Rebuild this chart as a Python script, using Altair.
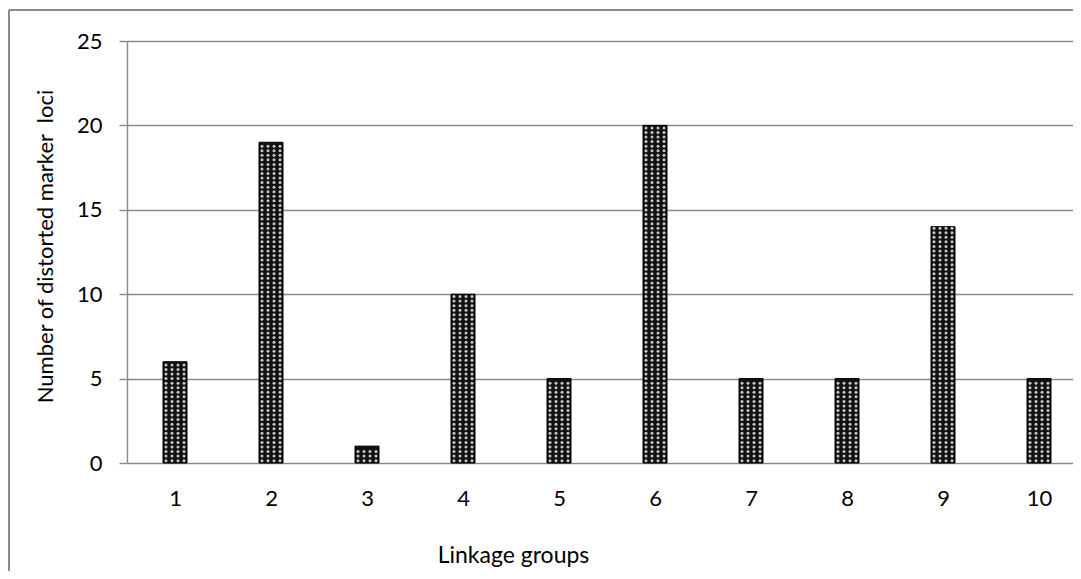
import altair as alt
import pandas as pd

groups = [1, 2, 3, 4, 5, 6, 7, 8, 9, 10]
loci = [6, 19, 1, 10, 5, 20, 5, 5, 14, 5]
y_ticks = [0, 5, 10, 15, 20, 25]

df = pd.DataFrame({"group": groups, "loci": loci})

FONT = "Lato"
GRAY = "#8a8a8a"
W, H = 946, 422

x_scale = alt.Scale(domain=[0.5, 0.5 + W / 96.0], nice=False, zero=False, padding=0)
y_scale = alt.Scale(domain=[0, 25], nice=False)

x_axis = alt.Axis(
    values=groups, format="d", grid=False, ticks=False, domain=False,
    labelPadding=25, labelFontSize=22, labelFont=FONT, labelColor="#000",
    titleFont=FONT, titleFontSize=23,
    titleFontWeight="normal", titleColor="#000",
    titleX=386, titleY=92, titleBaseline="middle", titleAlign="center",
    labelFlush=False,
)
y_axis = alt.Axis(
    values=y_ticks, grid=True, gridColor=GRAY, gridWidth=1.4,
    domainColor=GRAY, domainWidth=1.4, tickColor=GRAY, tickWidth=1.4,
    tickSize=8, labelPadding=17, labelFontSize=22, labelFont=FONT,
    labelColor="#000",
    titleFont=FONT,
    titleFontSize=22, titleFontWeight="normal", titleColor="#000",
    titleX=-82, titleY=205, titleBaseline="middle", titleAlign="center",
    titleAngle=-90,
)
X_TITLE = "Linkage groups"
Y_TITLE = "Number of distorted marker\u00a0\u00a0loci"

bars = alt.Chart(df).mark_bar(
    size=24, fill="#111111", stroke="#000", strokeWidth=1
).encode(
    x=alt.X("group:Q", scale=x_scale, axis=x_axis, title=X_TITLE),
    y=alt.Y("loci:Q", scale=y_scale, axis=y_axis, title=Y_TITLE),
)

# dotted fill texture of the bars, derived from each bar's value
dots = (
    alt.Chart(df)
    .transform_calculate(col="[-1.5, -0.5, 0.5, 1.5]")
    .transform_flatten(["col"])
    .transform_calculate(row="sequence(0.14, datum.loci - 0.05, 0.27)")
    .transform_flatten(["row"])
    .transform_filter("isValid(datum.row)")
    .transform_calculate(px="datum.group + datum.col * 0.0625")
    .mark_circle(size=9, color="#d0d0d0", opacity=0.95)
    .encode(
        x=alt.X("px:Q", scale=x_scale, axis=x_axis, title=X_TITLE),
        y=alt.Y("row:Q", scale=y_scale, axis=y_axis, title=Y_TITLE),
    )
)

border_left = alt.Chart(df).mark_rule(color=GRAY, strokeWidth=2).encode(
    x=alt.value(-118), y=alt.value(-31), y2=alt.value(H + 200)
)
border_top = alt.Chart(df).mark_rule(color=GRAY, strokeWidth=2).encode(
    x=alt.value(-118), x2=alt.value(W + 50), y=alt.value(-31)
)

chart = (
    alt.layer(bars, dots, border_left, border_top)
    .properties(
        width=W, height=H,
        autosize=alt.AutoSizeParams(type="none"),
        padding={"left": 119, "top": 33, "right": 0, "bottom": 108},
    )
    .configure_view(strokeWidth=0)
    .configure(background="white")
)

chart.save("out.html", embed_options={"renderer": "svg", "actions": False})
